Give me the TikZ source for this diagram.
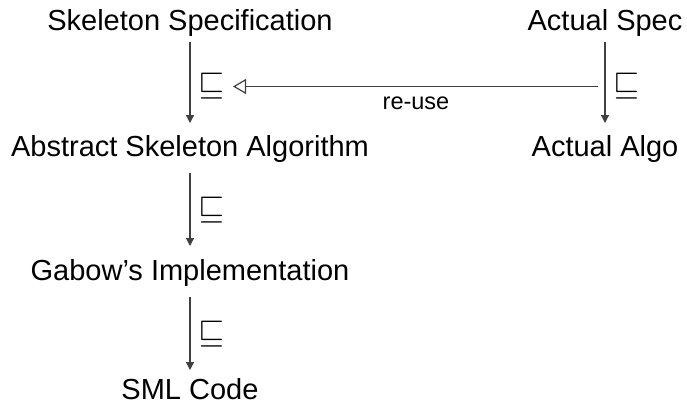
\documentclass[tikz,border=0pt]{standalone}
\usepackage{fontspec}
\usepackage{graphicx}
\setmainfont{Liberation Sans}
\usetikzlibrary{arrows.meta}
\newcommand{\refrel}{\scalebox{1.35}{$\sqsubseteq$}}
\begin{document}
\begin{tikzpicture}[x=1pt,y=-1pt,
  lbl/.style={font=\fontsize{29}{34}\selectfont, inner sep=0pt, anchor=base},
  refine/.style={draw=black!75, line width=1.2pt, -{Triangle[length=8pt,width=8pt]}},
  reuse/.style={draw=black!75, line width=1.2pt, -{Triangle[open,length=13pt,width=15pt]}},
  rel/.style={font=\fontsize{24}{28}\selectfont, inner sep=0pt}]
\useasboundingbox (0,0) rectangle (687,405);
\node[lbl] (ss) at (190,30) {Skeleton Specification};
\node[lbl] (as) at (605,30) {Actual Spec};
\node[lbl] (asa) at (190,156) {Abstract Skeleton Algorithm};
\node[lbl] (aa) at (605,156) {Actual Algo};
\node[lbl] (gi) at (190,280) {Gabow’s Implementation};
\node[lbl] (sml) at (190,399) {SML Code};
\coordinate (a1s) at (190,42); \coordinate (a1e) at (190,123);
\coordinate (a2s) at (605,42); \coordinate (a2e) at (605,123);
\coordinate (a3s) at (190,173); \coordinate (a3e) at (190,246);
\coordinate (a4s) at (190,297); \coordinate (a4e) at (190,370);
\draw[refine] (a1s) -- (a1e);
\draw[refine] (a2s) -- (a2e);
\draw[refine] (a3s) -- (a3e);
\draw[refine] (a4s) -- (a4e);
\node[rel] (r1) at (212,86) {\refrel};
\node[rel] (r2) at (627,86) {\refrel};
\node[rel] (r3) at (212,210) {\refrel};
\node[rel] (r4) at (212,334) {\refrel};
\coordinate (hs) at (598,86.5); \coordinate (he) at (233,86.5);
\draw[reuse] (hs) -- (he);
\node[font=\fontsize{23.5}{28}\selectfont, inner sep=0pt, anchor=base] (ru) at (416,109) {re-use};
\end{tikzpicture}
\end{document}
